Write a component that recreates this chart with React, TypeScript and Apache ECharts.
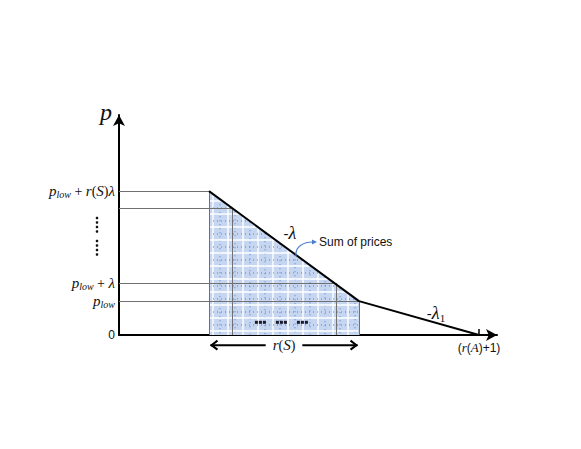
import React, { useEffect, useRef } from "react";
import * as echarts from "echarts";

// ---- data (axis units) ----
const X_MAX = 12.6;
const Y_MAX = 13;
const demandX = [3, 8, 12];
const demandY = [8.5, 2, 0];
const shadedX = [3, 8];
const shadedY = [8.5, 2];
const levelY = [8.5, 7.5, 3.07, 2];
const levelX = [3, 3.77, 7.23, 8];
const yTickValues = [0, 2, 3.07, 8.5];
const yTickLabels = [
  "{n|0}",
  "{i|p}{s|low}",
  "{i|p}{s|low}{o| + }{i|λ}",
  "{i|p}{s|low}{o| + }{i|r}{o|(}{i|S}{o|)}{i|λ}",
];
const xTickValues = [12];
const xTickLabels = ["{n|(}{i|r}{n|(}{i|A}{n|)+1)}"];
const rangeStart = 3.05;
const rangeEnd = 7.95;
const rangeY = -0.6;

// layout
const G = { left: 119, top: 115, width: 378, height: 220 };
const px = (x: number) => G.left + (x / X_MAX) * G.width;
const py = (y: number) => G.top + G.height - (y / Y_MAX) * G.height;

const serif = "Liberation Serif";
const sans = "Liberation Sans";

const richMath = {
  i: { fontFamily: serif, fontStyle: "italic", fontSize: 15, color: "#111" },
  s: { fontFamily: serif, fontStyle: "italic", fontSize: 10, color: "#111", padding: [7, 0, 0, 0] },
  o: { fontFamily: serif, fontSize: 14, color: "#111" },
  n: { fontFamily: sans, fontSize: 12, color: "#111" },
};

// texture renderer for the shaded "sum of prices" region
function renderShade(_params: any, api: any) {
  const a = api.coord([shadedX[0], shadedY[0]]);
  const b = api.coord([shadedX[1], shadedY[1]]);
  const a0 = api.coord([shadedX[0], 0]);
  const b0 = api.coord([shadedX[1], 0]);
  const topAt = (x: number) => a[1] + ((x - a[0]) * (b[1] - a[1])) / (b[0] - a[0]);
  const rightAt = (y: number) => (y >= b[1] ? b[0] : a[0] + ((y - a[1]) * (b[0] - a[0])) / (b[1] - a[1]));
  const children: any[] = [
    {
      type: "polygon",
      shape: { points: [a, b, b0, a0] },
      style: { fill: "#c6d6f1" },
    },
  ];
  const addV = (x: number, style: any) => {
    if (x <= a[0] || x >= b[0]) return;
    children.push({ type: "line", shape: { x1: x, y1: topAt(x) + 1, x2: x, y2: a0[1] }, style });
  };
  const addH = (y: number, style: any) => {
    if (y <= a[1] || y >= a0[1]) return;
    children.push({ type: "line", shape: { x1: a[0], y1: y, x2: rightAt(y) - 1, y2: y }, style });
  };
  const white = { stroke: "#ffffff", lineWidth: 1.4 };
  const blue = { stroke: "#4f7fd6", lineWidth: 1, lineDash: [1, 3] };
  const stepX = 15;
  const stepY = 13;
  for (let x = a[0] + 4; x < b[0]; x += stepX) {
    addV(x, white);
    addV(x + 7, blue);
  }
  for (let y = a0[1] - 4; y > a[1]; y -= stepY) {
    addH(y, white);
    addH(y - 6, blue);
  }
  return { type: "group", children };
}

export default function App() {
  const ref = useRef<HTMLDivElement>(null);
  useEffect(() => {
    if (!ref.current) return;
    document.body.style.margin = "0";
    const chart = echarts.init(ref.current, undefined, { renderer: "svg" });

    const guideLines: any[] = [];
    levelY.forEach((y, k) => {
      guideLines.push([{ coord: [0, y] }, { coord: [levelX[k], y] }]);
      guideLines.push([{ coord: [levelX[k], y] }, { coord: [levelX[k], 0] }]);
    });

    const extras: any[] = [];
    [218, 222.5, 227, 231.5, 241, 245.5, 250, 254.5].forEach((yy) =>
      extras.push({ type: "circle", shape: { cx: 97, cy: yy, r: 1.3 }, style: { fill: "#111" } })
    );
    const sqX0 = px(4.53);
    [0, 1, 2].forEach((g) =>
      [0, 1, 2].forEach((k) =>
        extras.push({
          type: "rect",
          shape: { x: sqX0 + g * 21 + k * 4, y: py(0.75) - 1.5, width: 3, height: 3 },
          style: { fill: "#1a1a2a" },
          z: 20,
        })
      )
    );
    // r(S) double arrow
    const ax1 = px(rangeStart);
    const ax2 = px(rangeEnd);
    const ay = py(rangeY);
    extras.push({ type: "line", shape: { x1: ax1, y1: ay, x2: ax2, y2: ay }, style: { stroke: "#000", lineWidth: 2 } });
    extras.push({
      type: "polyline",
      shape: { points: [[ax1 + 7, ay - 4.5], [ax1 + 1, ay], [ax1 + 7, ay + 4.5]] },
      style: { stroke: "#000", lineWidth: 2, fill: null },
    });
    extras.push({
      type: "polyline",
      shape: { points: [[ax2 - 7, ay - 4.5], [ax2 - 1, ay], [ax2 - 7, ay + 4.5]] },
      style: { stroke: "#000", lineWidth: 2, fill: null },
    });
    extras.push({
      type: "text",
      x: (ax1 + ax2) / 2,
      y: ay,
      z: 30,
      style: {
        text: "{i|r}{o|(}{i|S}{o|)}",
        align: "center",
        verticalAlign: "middle",
        backgroundColor: "#fff",
        padding: [1, 7],
        rich: {
          i: { fontFamily: serif, fontStyle: "italic", fontSize: 15, fill: "#111" },
          o: { fontFamily: serif, fontSize: 14, fill: "#111" },
        },
      },
    });

    chart.setOption({
      animation: false,
      grid: { left: G.left, top: G.top, width: G.width, height: G.height },
      xAxis: {
        type: "value",
        min: 0,
        max: X_MAX,
        splitLine: { show: false },
        axisTick: { show: false },
        axisLine: {
          show: true,
          symbol: ["none", "arrow"],
          symbolSize: [9, 11],
          lineStyle: { color: "#000", width: 2 },
        },
        axisLabel: {
          customValues: xTickValues,
          margin: 6,
          formatter: (v: number) => xTickLabels[xTickValues.indexOf(v)] ?? "",
          rich: { ...richMath, i: { ...richMath.i, fontSize: 13 }, n: { ...richMath.n, fontSize: 12 } },
        },
      },
      yAxis: {
        type: "value",
        min: 0,
        max: Y_MAX,
        splitLine: { show: false },
        axisTick: { show: false },
        axisLine: {
          show: true,
          symbol: ["none", "arrow"],
          symbolSize: [9, 11],
          lineStyle: { color: "#000", width: 2 },
        },
        axisLabel: {
          customValues: yTickValues,
          margin: 4,
          formatter: (v: number) => yTickLabels[yTickValues.indexOf(v)] ?? "",
          rich: richMath,
        },
      },
      series: [
        {
          type: "custom",
          data: [[shadedX[0], shadedY[0]]],
          renderItem: renderShade,
          silent: true,
          clip: false,
          z: 1,
        },
        {
          type: "line",
          data: [],
          z: 3,
          markLine: {
            silent: true,
            symbol: "none",
            label: { show: false },
            lineStyle: { color: "#707070", width: 1, type: "solid" },
            data: guideLines,
          },
        },
        {
          type: "line",
          data: demandX.map((x, k) => [x, demandY[k]]),
          symbol: "none",
          lineStyle: { color: "#000", width: 2 },
          z: 5,
          markLine: {
            silent: true,
            symbol: "none",
            label: { show: false },
            lineStyle: { color: "#000", width: 1.5, type: "solid" },
            data: [[{ coord: [demandX[2], 0] }, { coord: [demandX[2], 0.35] }]],
          },
        },
      ],
      graphic: [
        {
          type: "text",
          x: 112,
          y: 112,
          style: { text: "p", font: `italic 24px "${serif}"`, fill: "#111", align: "right", verticalAlign: "middle" },
        },
        {
          type: "text",
          x: 290,
          y: 233,
          style: {
            text: "{n|-}{i|λ}",
            align: "center",
            verticalAlign: "middle",
            rich: { n: { fontFamily: sans, fontSize: 15, fill: "#111" }, i: { fontFamily: serif, fontStyle: "italic", fontSize: 18, fill: "#111" } },
          },
        },
        {
          type: "text",
          x: 436,
          y: 313,
          style: {
            text: "{n|-}{i|λ}{s|1}",
            align: "center",
            verticalAlign: "middle",
            rich: {
              n: { fontFamily: sans, fontSize: 15, fill: "#111" },
              i: { fontFamily: serif, fontStyle: "italic", fontSize: 18, fill: "#111" },
              s: { fontFamily: serif, fontSize: 11, fill: "#111", padding: [9, 0, 0, 0] },
            },
          },
        },
        {
          type: "text",
          x: 319,
          y: 242,
          style: { text: "Sum of prices", font: `12px "${sans}"`, fill: "#111", align: "left", verticalAlign: "middle" },
        },
        {
          type: "bezierCurve",
          shape: { x1: 296, y1: 256, cpx1: 295, cpy1: 246, cpx2: 304, cpy2: 242, x2: 313, y2: 242 },
          style: { stroke: "#4a7fd0", lineWidth: 1.2, fill: null },
          z: 20,
        },
        {
          type: "polygon",
          shape: { points: [[317, 242], [312, 239.5], [312, 244.5]] },
          style: { fill: "#4a7fd0" },
          z: 20,
        },
        ...extras,
      ],
    });
    return () => chart.dispose();
  }, []);
  return <div ref={ref} style={{ width: 581, height: 449 }} />;
}
